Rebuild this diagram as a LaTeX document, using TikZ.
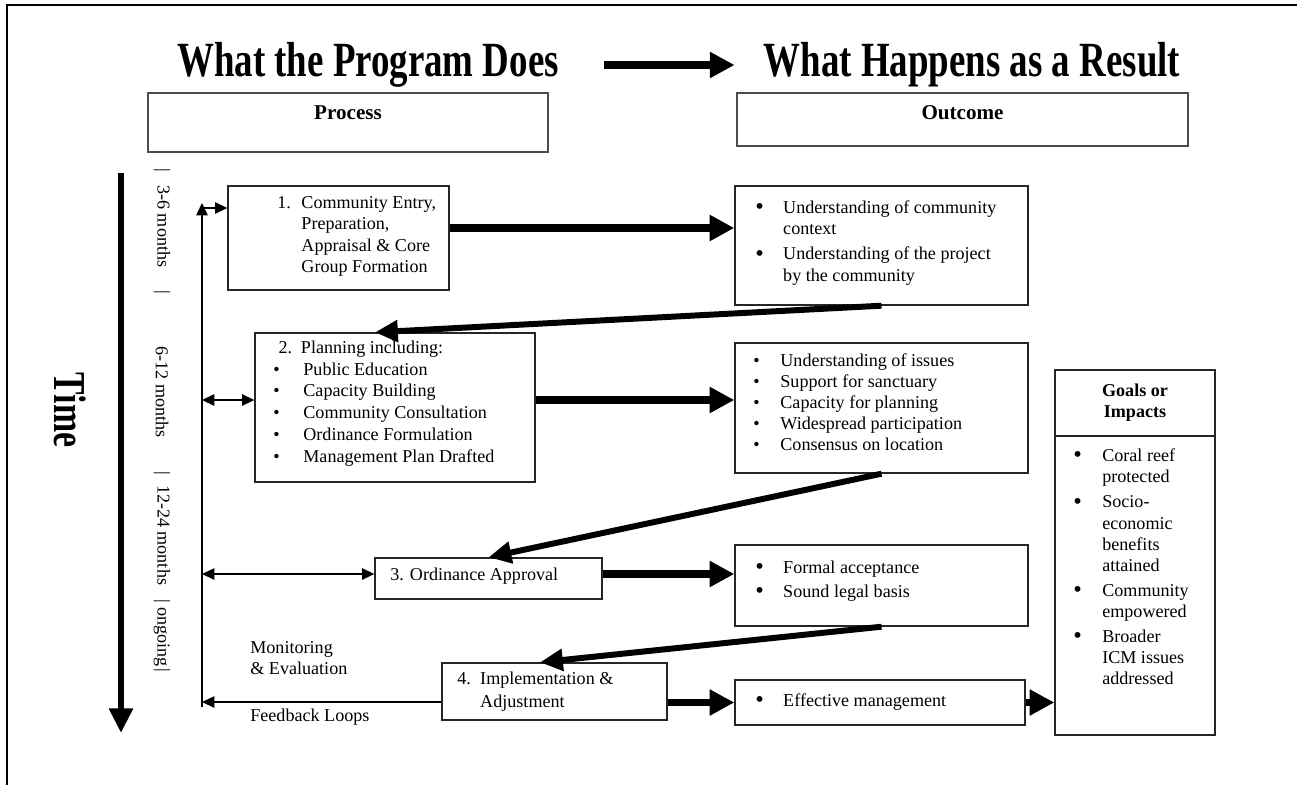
\documentclass[tikz,border=0pt]{standalone}
\usepackage{fontspec}
\setmainfont{Liberation Serif}
\usepackage{graphicx}
\usetikzlibrary{positioning, arrows.meta, calc}
\newcommand{\bigbul}{\raisebox{-0.6pt}{\scalebox{1.35}{\textbullet}}}
\tikzset{
    frame/.style={draw=black!85, line width=0.8pt, inner sep=0pt},
    headbox/.style={draw=black!70, line width=0.9pt, inner sep=0pt},
    headtxt/.style={font=\fontsize{12}{14}\selectfont\bfseries, inner sep=0pt},
    bigtitle/.style={font=\fontsize{28}{32}\selectfont\bfseries, inner sep=0pt},
    bodytxt/.style={font=\fontsize{10.3}{12}\selectfont, inner sep=0pt, align=left},
    timetxt/.style={font=\fontsize{10.3}{12}\selectfont, inner sep=0pt, rotate=-90},
    fatarrow/.style={line width=4pt, -{Triangle[length=14pt, width=14pt]}},
    slantarrow/.style={line width=3.4pt, -{Triangle[length=13pt, width=12pt]}},
    thinarrow/.style={line width=0.7pt, -{Triangle[length=7pt, width=6.5pt]}},
    twoarrow/.style={line width=0.7pt, {Triangle[length=7pt, width=6.5pt]}-{Triangle[length=7pt, width=6.5pt]}}
}

\begin{document}
\begin{tikzpicture}[x=0.02cm, y=-0.02cm]
\useasboundingbox (0,0) rectangle (1297,785);
% page frame (top and left only)
\draw[line width=1.1pt] (1297,5) -- (7,5) -- (7,785);

% Headings
\node[bigtitle] (title1) at (368,65) {\scalebox{0.75}[1]{What the Program Does}};
\node[bigtitle] (title2) at (972,65) {\scalebox{0.75}[1]{What Happens as a Result}};
\draw[fatarrow, shorten <=0.9cm, shorten >=0.58cm] (title1.east) -- (title2.west);

\node[headbox, minimum width=8cm, minimum height=1.18cm] (process) at (348,122.5) {};
\node[headtxt] (processtxt) at (348,113) {Process};
\node[headbox, minimum width=9.02cm, minimum height=1.06cm] (outcome) at (962.5,119.5) {};
\node[headtxt] (outcometxt) at (962.5,113) {Outcome};

% Time axis
\node[font=\fontsize{26}{30}\selectfont\bfseries, inner sep=0pt, rotate=-90] (time) at (70,410) {\scalebox{0.74}[1]{Time}};
\coordinate (timetop) at (121,173);
\coordinate (timebot) at (121,733);
\draw[line width=3.6pt, -{Triangle[length=14pt, width=13pt]}] (timetop) -- (timebot);

\node[timetxt] (t1) at (162,231) {|\hspace{7.6pt}3-6 months\hspace{13pt}|};
\node[timetxt] (t2) at (162,392) {6-12 months};
\node[timetxt] (t3) at (162,572) {|\hspace{5.7pt}12-24 months\hspace{8pt}|\hspace{2.8pt}ongoing\hspace{1.1pt}|};

% Feedback line
\coordinate (vtop) at (202,203);
\coordinate (vbot) at (202,707);
\draw[thinarrow] (vbot) -- (vtop);

% Process steps
\node[frame, minimum width=4.42cm, minimum height=2.08cm] (box1) at (338.5,238) {};
\node[bodytxt, anchor=west] (box1txt) at (277,236) {\fontsize{10.3}{12.2}\selectfont
\begin{tabular}{@{}l@{\hspace{6pt}}l@{}}
1. & Community Entry,\\
   & Preparation,\\
   & Appraisal \& Core\\
   & Group Formation
\end{tabular}};

\node[frame, minimum width=5.6cm, minimum height=2.98cm] (box2) at (395,407.5) {};
\node[bodytxt, anchor=west] (box2txt) at (273,403.5) {\fontsize{10.3}{12.4}\selectfont
\begin{tabular}{@{}l@{\hspace{13.5pt}}l@{}}
\multicolumn{2}{@{}l@{}}{\hspace{3pt}2.\hspace{5pt}Planning including:}\\
\textbullet & Public Education\\
\textbullet & Capacity Building\\
\textbullet & Community Consultation\\
\textbullet & Ordinance Formulation\\
\textbullet & Management Plan Drafted
\end{tabular}};

\node[frame, minimum width=4.54cm, minimum height=0.82cm] (box3) at (488.5,578.5) {};
\node[bodytxt, anchor=west] (box3txt) at (390,576) {3. Ordinance Approval};

\node[frame, minimum width=4.5cm, minimum height=1.14cm] (box4) at (554.5,691.5) {};
\node[bodytxt, anchor=west] (box4txt) at (457,691.5) {\fontsize{10.3}{13}\selectfont
\begin{tabular}{@{}l@{\hspace{5.3pt}}l@{}}
4. & Implementation \&\\
   & Adjustment
\end{tabular}};

% Outcomes
\node[frame, minimum width=5.86cm, minimum height=2.38cm] (out1) at (881.5,245.5) {};
\node[bodytxt, anchor=west] (out1txt) at (755,243) {\fontsize{10.3}{12}\selectfont
\begin{tabular}{@{}l@{\hspace{11pt}}l@{}}
\bigbul & Understanding of community\\
        & context\\[2.5pt]
\bigbul & Understanding of the project\\
        & by the community
\end{tabular}};

\node[frame, minimum width=5.86cm, minimum height=2.6cm] (out2) at (881.5,408) {};
\node[bodytxt, anchor=west] (out2txt) at (753,404) {\fontsize{10.3}{12}\selectfont
\begin{tabular}{@{}l@{\hspace{11.8pt}}l@{}}
\textbullet & Understanding of issues\\
\textbullet & Support for sanctuary\\
\textbullet & Capacity for planning\\
\textbullet & Widespread participation\\
\textbullet & Consensus on location
\end{tabular}};

\node[frame, minimum width=5.86cm, minimum height=1.62cm] (out3) at (881.5,585.5) {};
\node[bodytxt, anchor=west] (out3txt) at (755,581) {\fontsize{10.3}{12}\selectfont
\begin{tabular}{@{}l@{\hspace{11pt}}l@{}}
\bigbul & Formal acceptance\\[1.6pt]
\bigbul & Sound legal basis
\end{tabular}};

\node[frame, minimum width=5.8cm, minimum height=0.9cm] (out4) at (880,702.5) {};
\node[bodytxt, anchor=west] (out4txt) at (755,702) {\bigbul\hspace{11pt}Effective management};

% Goals
\node[frame, minimum width=3.2cm, minimum height=1.32cm, align=center, font=\fontsize{10.3}{12}\selectfont\bfseries] (goalshead) at (1135,403) {Goals or\\Impacts};
\node[frame, minimum width=3.2cm, minimum height=5.98cm] (goalsbody) at (1135,585.5) {};
\node[bodytxt, anchor=west] (goalstxt) at (1073,569) {\fontsize{10.3}{12}\selectfont
\begin{tabular}{@{}l@{\hspace{11.6pt}}l@{}}
\bigbul & Coral reef\\
        & protected\\[2.3pt]
\bigbul & Socio-\\
        & economic\\
        & benefits\\
        & attained\\[2.3pt]
\bigbul & Community\\
        & empowered\\[2.3pt]
\bigbul & Broader\\
        & ICM issues\\
        & addressed
\end{tabular}};

% Monitoring labels
\node[bodytxt, anchor=west] (monitor) at (250,658) {Monitoring\\\& Evaluation};
\node[bodytxt, anchor=west] (loops) at (250,717) {Feedback Loops};

% Process to outcome
\draw[fatarrow] (box1.east |- 0,228) -- (out1.west |- 0,228);
\draw[fatarrow] (box2.east |- 0,400) -- (out2.west |- 0,400);
\draw[fatarrow] (box3.east |- 0,574) -- (out3.west |- 0,574);
\draw[fatarrow] (box4.east |- out4.west) -- (out4.west);
\draw[fatarrow] (out4.east) -- (goalsbody.west |- out4.east);

% Outcome back to next step
\draw[slantarrow] (out1.south) -- (box2.north -| 375,0);
\draw[slantarrow] (out2.south) -- (box3.north);
\draw[slantarrow] (out3.south) -- (box4.north -| 540,0);

% Links from the feedback line
\draw[thinarrow] (vtop |- 0,208) -- (box1.west |- 0,208);
\draw[twoarrow] (vtop |- 0,400) -- (box2.west |- 0,400);
\draw[twoarrow] (vtop |- 0,574) -- (box3.west |- 0,574);
\draw[thinarrow] (box4.west |- 0,702) -- (vbot |- 0,702);
\end{tikzpicture}
\end{document}
